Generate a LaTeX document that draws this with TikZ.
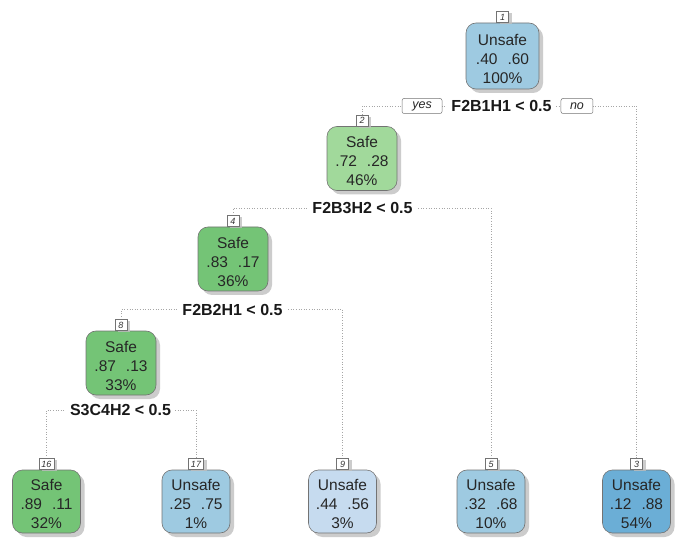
\documentclass[tikz,border=0pt]{standalone}
\usepackage{fontspec}
\setmainfont{Liberation Sans}
\usetikzlibrary{shadows}
\definecolor{uLight}{HTML}{C6DBEF}
\definecolor{uMid}{HTML}{9ECAE1}
\definecolor{uDark}{HTML}{6BAED6}
\definecolor{sLight}{HTML}{A1D99B}
\definecolor{sDark}{HTML}{74C476}
\pgfdeclarelayer{bg}
\pgfsetlayers{bg,main}
\newcommand{\topstrut}{\rule{0pt}{17pt}}
\tikzset{
  box/.style={draw=black!55, line width=0.6pt, rounded corners=10pt,
    minimum width=70pt, minimum height=64pt, inner sep=0pt, align=center,
    font=\fontsize{15.5}{19}\selectfont, text=black!85,
    drop shadow={shadow xshift=4pt, shadow yshift=-4pt, fill=black!25, opacity=0.8}},
  leafbox/.style={box, minimum width=68pt, minimum height=63pt},
  tag/.style={draw=black!55, fill=white, line width=0.5pt, inner xsep=2.5pt, inner ysep=0pt,
    minimum width=12pt, minimum height=11pt, font=\fontsize{9}{10}\selectfont\itshape, text=black!80,
    anchor=south, drop shadow={shadow xshift=3pt, shadow yshift=-2pt, fill=black!25, opacity=0.8}},
  split/.style={fill=white, inner xsep=4pt, inner ysep=1pt, font=\fontsize{16}{18}\selectfont\bfseries, text=black!90},
  yn/.style={draw=black!55, fill=white, rounded corners=2pt, line width=0.5pt, inner sep=0pt,
    minimum height=15pt, font=\fontsize{12.5}{14}\selectfont\itshape, text=black!85},
  conn/.style={draw=black!35, dotted, line width=0.6pt}
}
\begin{document}
\begin{tikzpicture}[x=1pt,y=-1pt]
\useasboundingbox (0,0) rectangle (675,540);
% internal nodes
\node[box, fill=uMid, minimum width=73pt, minimum height=66pt] (n1) at (502.5,56) {\topstrut Unsafe\\.40\hspace{10pt}.60\\100\%};
\node[box, fill=sLight] (n2) at (362,158.5) {\topstrut Safe\\.72\hspace{10pt}.28\\46\%};
\node[box, fill=sDark] (n4) at (233,259) {\topstrut Safe\\.83\hspace{10pt}.17\\36\%};
\node[box, fill=sDark] (n8) at (121,363) {\topstrut Safe\\.87\hspace{10pt}.13\\33\%};
% leaves
\node[leafbox, fill=sDark] (n16) at (46.5,501.5) {\topstrut Safe\\.89\hspace{10pt}.11\\32\%};
\node[leafbox, fill=uMid] (n17) at (196,501.5) {\topstrut Unsafe\\.25\hspace{10pt}.75\\1\%};
\node[leafbox, fill=uLight] (n9) at (342.5,501.5) {\topstrut Unsafe\\.44\hspace{10pt}.56\\3\%};
\node[leafbox, fill=uMid] (n5) at (491,501.5) {\topstrut Unsafe\\.32\hspace{10pt}.68\\10\%};
\node[leafbox, fill=uDark] (n3) at (636.5,501.5) {\topstrut Unsafe\\.12\hspace{10pt}.88\\54\%};
% number tags
\node[tag] (t1) at (n1.north) {1};
\node[tag] (t2) at (n2.north) {2};
\node[tag] (t4) at (n4.north) {4};
\node[tag] (t8) at (n8.north) {8};
\node[tag] (t16) at (n16.north) {16};
\node[tag] (t17) at (n17.north) {17};
\node[tag] (t9) at (n9.north) {9};
\node[tag] (t5) at (n5.north) {5};
\node[tag] (t3) at (n3.north) {3};
% split labels
\node[split] (s1) at (501.5,106) {F2B1H1 < 0.5};
\node[split] (s2) at (362.5,208) {F2B3H2 < 0.5};
\node[split] (s4) at (232.5,309.5) {F2B2H1 < 0.5};
\node[split] (s8) at (120.5,410) {S3C4H2 < 0.5};
\node[yn, minimum width=40pt, anchor=east] (yes) at ([xshift=-5pt]s1.west) {yes};
\node[yn, minimum width=32pt, anchor=west] (no) at ([xshift=5pt]s1.east) {no};
% connectors
\begin{pgfonlayer}{bg}
\draw[conn] (t2.north) |- (s1.center) -| (t3.north);
\draw[conn] (t4.north) |- (s2.center) -| (t5.north);
\draw[conn] (t8.north) |- (s4.center) -| (t9.north);
\draw[conn] (t16.north) |- (s8.center) -| (t17.north);
\end{pgfonlayer}
\end{tikzpicture}
\end{document}
